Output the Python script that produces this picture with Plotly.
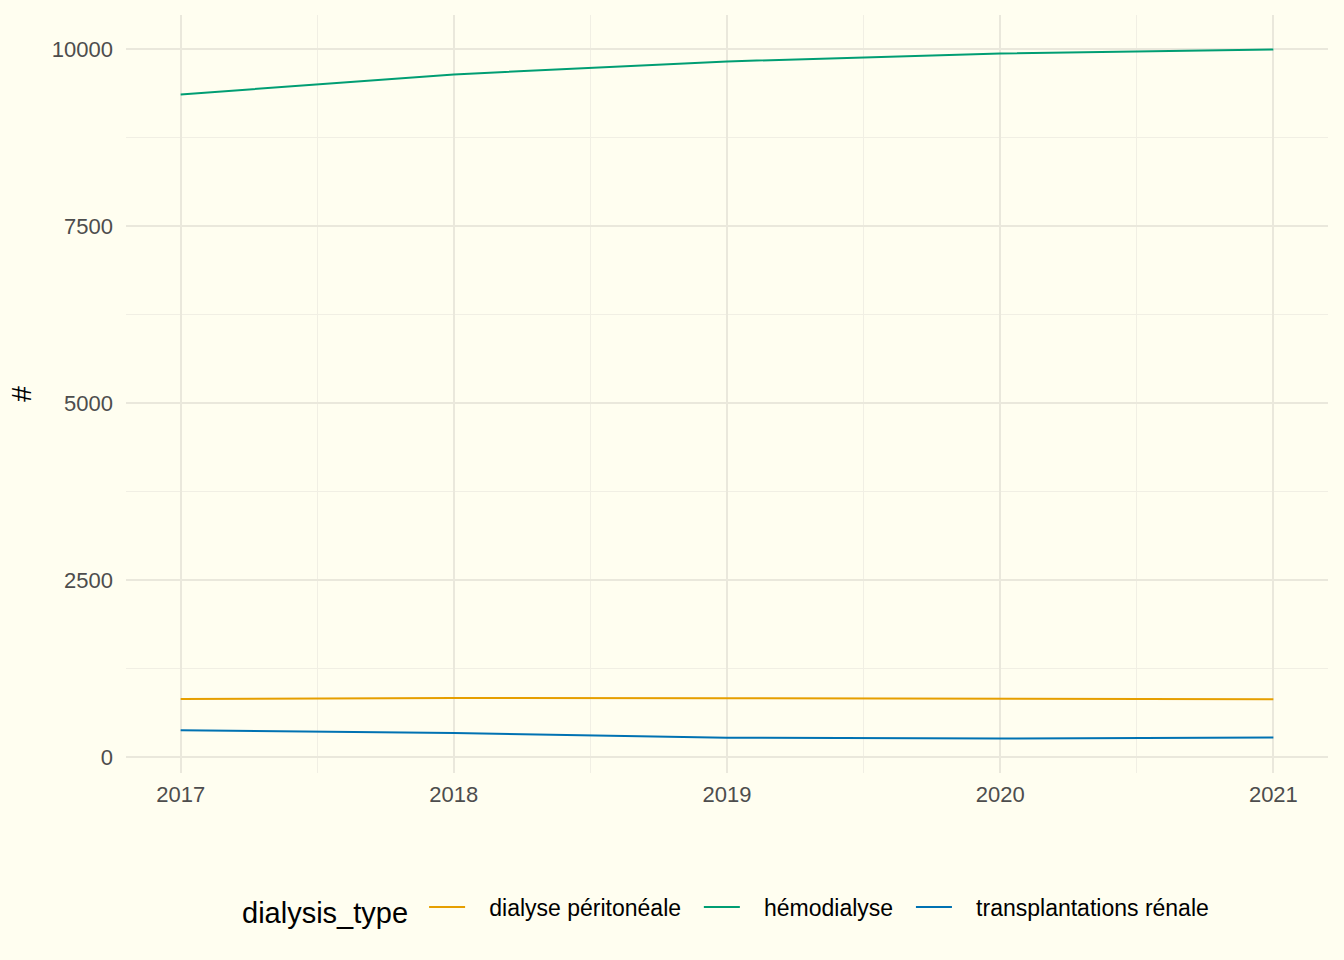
import plotly.graph_objects as go

years = [2017, 2018, 2019, 2020, 2021]
dialyse_peritoneale = [826, 840, 838, 826, 823]
hemodialyse = [9364, 9648, 9831, 9944, 10000]
transplantations_renale = [385, 345, 280, 268, 283]

series = [
    ("dialyse péritonéale", dialyse_peritoneale, "#E69F00"),
    ("hémodialyse", hemodialyse, "#009E73"),
    ("transplantations rénale", transplantations_renale, "#0072B2"),
]

NB = "\u00a0"
fig = go.Figure()
for i, (name, vals, color) in enumerate(series):
    trail = NB * 2 if i < len(series) - 1 else ""
    fig.add_trace(go.Scatter(x=years, y=vals, mode="lines", name=NB * 3 + name + trail,
                             line=dict(color=color, width=2)))

bg = "#FFFEF0"
grid = "#EAE8DC"
fig.update_layout(
    width=1344, height=960,
    paper_bgcolor=bg, plot_bgcolor=bg,
    margin=dict(l=126, r=16, t=15, b=187),
    font=dict(family="Liberation Sans, Arial, sans-serif", size=23, color="#4D4D4D"),
    showlegend=True,
    legend=dict(orientation="h", x=0.5, xanchor="center", y=-0.18, yanchor="middle",
                title=dict(text="dialysis_type" + NB, font=dict(size=29, color="#000000")),
                font=dict(size=23, color="#000000"), bgcolor="rgba(0,0,0,0)",
                itemwidth=36),
)
fig.update_xaxes(range=[2016.8, 2021.2], tickmode="linear", tick0=2017, dtick=1,
                 showgrid=True, gridcolor=grid, gridwidth=1.6, zeroline=False,
                 showline=False, ticks="", tickfont=dict(size=22, color="#4D4D4D"),
                 ticklabelstandoff=6,
                 minor=dict(tick0=2016.5, dtick=0.5, showgrid=True, gridcolor="#F1EFE4", gridwidth=1))
fig.update_yaxes(range=[-219, 10487], tickmode="linear", tick0=0, dtick=2500,
                 showgrid=True, gridcolor=grid, gridwidth=1.6, zeroline=False,
                 showline=False, ticks="", tickfont=dict(size=22, color="#4D4D4D"),
                 tickformat="d", ticklabelstandoff=12,
                 title=dict(text="#", font=dict(size=28, color="#000000"), standoff=12),
                 minor=dict(tick0=1250, dtick=2500, showgrid=True, gridcolor="#F1EFE4", gridwidth=1))

fig.write_html("out.html", config={"displayModeBar": False})

with open("out.html", "r", encoding="utf-8") as f:
    html = f.read()
html = html.replace("<head>", "<head><style>html,body{margin:0;padding:0;background:#FFFEF0;}</style>", 1)
with open("out.html", "w", encoding="utf-8") as f:
    f.write(html)
